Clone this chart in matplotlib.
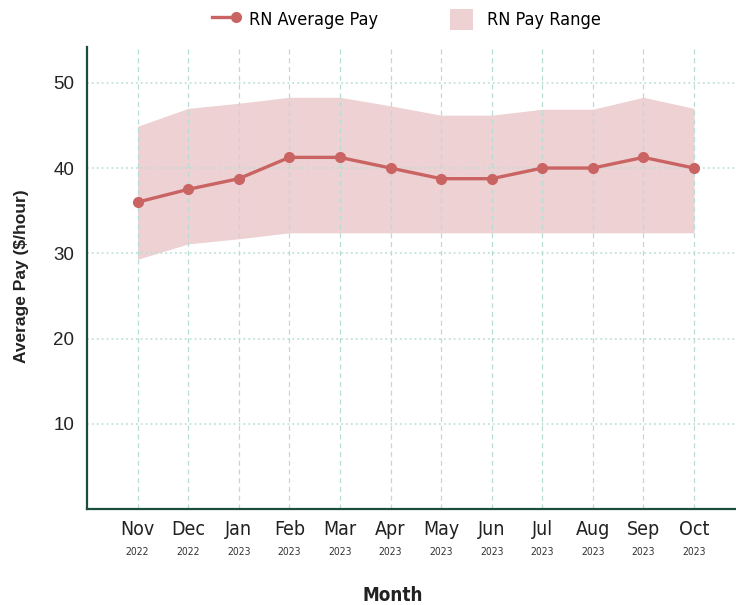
import matplotlib
matplotlib.use('Agg')
import matplotlib.pyplot as plt
import matplotlib.transforms as mtransforms
from matplotlib.legend_handler import HandlerLine2DCompound
from matplotlib.lines import Line2D
from matplotlib.patches import Patch
from matplotlib import font_manager as fm
import numpy as np

months = ['Nov', 'Dec', 'Jan', 'Feb', 'Mar', 'Apr', 'May', 'Jun', 'Jul', 'Aug', 'Sep', 'Oct']
years = ['2022', '2022', '2023', '2023', '2023', '2023', '2023', '2023', '2023', '2023', '2023', '2023']
avg_pay = [36.0, 37.5, 38.75, 41.25, 41.25, 40.0, 38.75, 38.75, 40.0, 40.0, 41.25, 40.0]
pay_low = [29.3, 31.1, 31.7, 32.4, 32.4, 32.4, 32.4, 32.4, 32.4, 32.4, 32.4, 32.4]
pay_high = [44.9, 47.0, 47.6, 48.3, 48.3, 47.3, 46.2, 46.2, 46.9, 46.9, 48.3, 47.0]

LINE = '#C96463'
FILL = '#EDD1D3'
SPINE = '#1B4D3E'
GRID = '#B9DDD4'


def narrow(size, weight='normal'):
    return fm.FontProperties(family='DejaVu Sans', stretch='condensed', size=size, weight=weight)


class EndMarkerHandler(HandlerLine2DCompound):
    # marker sits at the right end of the legend line
    def get_xdata(self, legend, xdescent, ydescent, width, height, fontsize):
        xdata = np.array([-xdescent, -xdescent + width])
        return xdata, xdata[-1:]


fig = plt.figure(figsize=(7.36, 6.05), dpi=100)
ax = fig.add_axes([0.1182, 0.1587, 0.8818, 0.7636])

x = np.arange(1, len(months) + 1)
ax.fill_between(x, pay_low, pay_high, color=FILL, linewidth=0, zorder=1)
ax.plot(x, avg_pay, color=LINE, linewidth=2.4, marker='o', markersize=7, zorder=3)

ax.set_xlim(0, 12.83)
ax.set_ylim(0, 54.2)

ax.set_yticks([10, 20, 30, 40, 50])
ax.set_xticks(x)
ax.set_xticklabels(months, fontproperties=narrow(14), color='#222222')
ax.tick_params(axis='y', labelsize=13.5, labelcolor='#222222', labelfontfamily='Liberation Sans')
ax.tick_params(axis='both', length=0)
ax.tick_params(axis='y', pad=9)
ax.tick_params(axis='x', pad=8)

trans = mtransforms.blended_transform_factory(ax.transData, ax.transAxes)
for xi, yr in zip(x, years):
    ax.text(xi, -0.094, yr, transform=trans, ha='center', va='center',
            fontproperties=narrow(7.5), color='#333333')

# grid: dashed verticals, dotted horizontals
for xi in x:
    ax.axvline(xi, color=GRID, linewidth=0.9, linestyle=(0, (4, 3)), zorder=2)
for yv in [10, 20, 30, 40, 50]:
    ax.axhline(yv, color=GRID, linewidth=1.1, linestyle=(0, (1.2, 2)), zorder=2)

for side in ['top', 'right']:
    ax.spines[side].set_visible(False)
for side in ['left', 'bottom']:
    ax.spines[side].set_color(SPINE)
    ax.spines[side].set_linewidth(1.6)

ax.set_ylabel('Average Pay ($/hour)', family='Liberation Sans', fontsize=12.5,
              fontweight='bold', color='#222222')
ax.yaxis.set_label_coords(-0.09, 0.505)
fig.text(0.534, 0.0165, 'Month', ha='center', va='center',
         fontproperties=narrow(13.5, 'bold'), color='#222222')

handles = [Line2D([], [], color=LINE, linewidth=2.4, marker='o', markersize=7),
           Patch(facecolor=FILL, edgecolor='none')]
fig.legend(handles, ['RN Average Pay', 'RN Pay Range'], loc='center',
           bbox_to_anchor=(0.552, 0.968), ncol=2, frameon=False,
           prop=narrow(13), handlelength=1.3,
           handleheight=1.45, handletextpad=0.75, columnspacing=3.95,
           handler_map={Line2D: EndMarkerHandler()})

fig.savefig('out.png', dpi=100)
